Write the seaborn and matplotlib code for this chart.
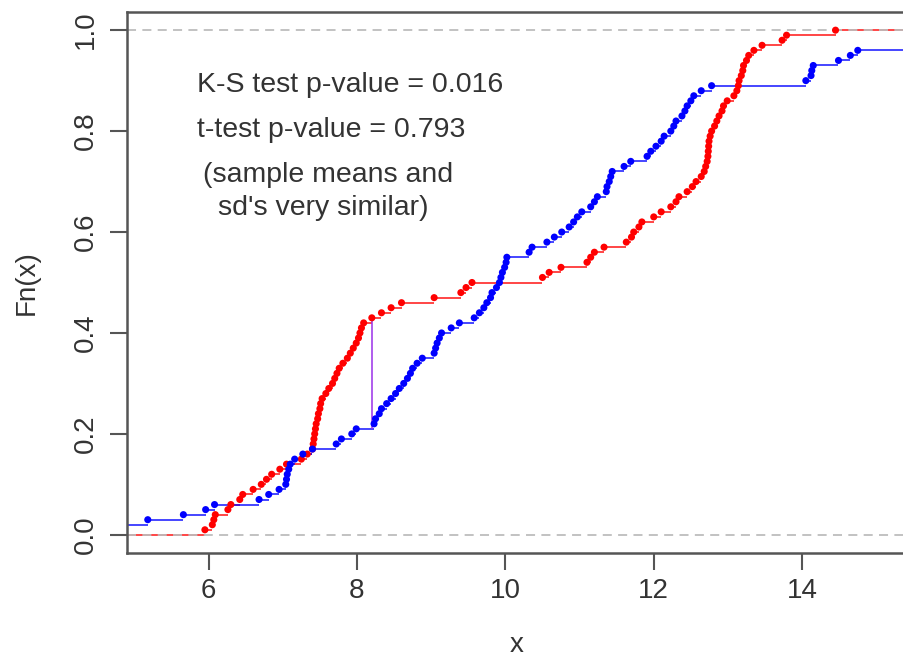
import numpy as np
import pandas as pd
import matplotlib
matplotlib.use("Agg")
import matplotlib.pyplot as plt
import seaborn as sns

# ---- data ----
red_values = [
    5.95, 6.05, 6.07, 6.09, 6.26, 6.30, 6.42, 6.46, 6.60, 6.71,
    6.78, 6.85, 6.96, 7.05, 7.25, 7.33, 7.40, 7.41, 7.42, 7.43,
    7.44, 7.45, 7.47, 7.48, 7.50, 7.51, 7.53, 7.58, 7.62, 7.67,
    7.70, 7.73, 7.76, 7.81, 7.87, 7.91, 7.95, 7.99, 8.02, 8.04,
    8.06, 8.09, 8.20, 8.33, 8.46, 8.60, 9.04, 9.40, 9.47, 9.55,
    10.50, 10.59, 10.75, 11.10, 11.15, 11.20, 11.33, 11.63, 11.70, 11.73,
    11.80, 11.84, 12.00, 12.10, 12.23, 12.30, 12.34, 12.45, 12.52, 12.57,
    12.64, 12.68, 12.70, 12.72, 12.73, 12.735, 12.74, 12.745, 12.76, 12.78,
    12.82, 12.85, 12.88, 12.92, 12.94, 12.99, 13.08, 13.12, 13.14, 13.15,
    13.18, 13.20, 13.21, 13.25, 13.28, 13.35, 13.46, 13.73, 13.79, 14.45,
]
blue_values = [
    4.55, 4.80, 5.18, 5.66, 5.96, 6.08, 6.68, 6.81, 6.95, 7.04,
    7.05, 7.06, 7.08, 7.10, 7.16, 7.27, 7.40, 7.72, 7.79, 7.93,
    7.99, 8.23, 8.25, 8.30, 8.33, 8.40, 8.46, 8.52, 8.57, 8.63,
    8.68, 8.72, 8.75, 8.81, 8.88, 9.04, 9.06, 9.08, 9.11, 9.14,
    9.27, 9.38, 9.58, 9.65, 9.71, 9.75, 9.80, 9.82, 9.88, 9.92,
    9.94, 9.96, 9.99, 10.01, 10.02, 10.32, 10.36, 10.56, 10.66, 10.76,
    10.86, 10.92, 10.97, 11.03, 11.15, 11.20, 11.24, 11.36, 11.37, 11.40,
    11.42, 11.44, 11.60, 11.69, 11.91, 11.96, 12.03, 12.10, 12.14, 12.23,
    12.27, 12.30, 12.38, 12.42, 12.45, 12.50, 12.54, 12.64, 12.78, 14.05,
    14.12, 14.13, 14.15, 14.49, 14.65, 14.75, 15.80, 16.20, 16.60, 17.10,
]
annot_lines = ["K-S test p-value = 0.016", "t-test p-value = 0.793",
               "(sample means and", "sd's very similar)"]
x_ticks = [6, 8, 10, 12, 14]
y_ticks = [0.0, 0.2, 0.4, 0.6, 0.8, 1.0]
y_tick_labels = ["0.0", "0.2", "0.4", "0.6", "0.8", "1.0"]
XLIM = (4.90, 15.40)
YLIM = (-0.036, 1.036)

sns.set_theme(style="white")
plt.rcParams["font.family"] = ["Liberation Sans", "DejaVu Sans"]

fig = plt.figure(figsize=(9.04, 6.6), dpi=100)
ax = fig.add_axes([127 / 904, 107 / 660, 779 / 904, 541 / 660])


def ecdf_frame(vals, name):
    v = np.sort(np.asarray(vals, dtype=float))
    F = np.arange(1, len(v) + 1) / len(v)
    return pd.DataFrame({"x": v, "F": F, "group": name})


red_df = ecdf_frame(red_values, "red")
blue_df = ecdf_frame(blue_values, "blue")
colors = {"red": "#FF0000", "blue": "#0000FF"}

for df, z in [(red_df, 2.0), (blue_df, 2.1)]:
    xs = df["x"].to_numpy()
    Fs = df["F"].to_numpy()
    starts = np.concatenate([[XLIM[0] - 5], xs])
    ends = np.concatenate([xs, [XLIM[1] + 5]])
    levels = np.concatenate([[0.0], Fs])
    ax.hlines(levels, starts, ends, colors=colors[df["group"].iloc[0]],
              lw=1.2, alpha=0.85, zorder=z)

for yv in (0.0, 1.0):
    ax.axhline(yv, color="#BDBDBD", lw=1.3, ls=(0, (5, 3.5)), zorder=2.5)

# K-S statistic line
pool = np.sort(np.concatenate([red_df["x"], blue_df["x"]]))
Fr = np.searchsorted(red_df["x"].to_numpy(), pool, side="right") / len(red_df)
Fb = np.searchsorted(blue_df["x"].to_numpy(), pool, side="right") / len(blue_df)
i = int(np.argmax(np.abs(Fr - Fb)))
ax.vlines(pool[i], min(Fr[i], Fb[i]), max(Fr[i], Fb[i]), color="#9A30E8",
          lw=1.1, zorder=2.6)

for df, z in [(red_df, 3.0), (blue_df, 3.1)]:
    sns.scatterplot(data=df, x="x", y="F", color=colors[df["group"].iloc[0]],
                    s=26, edgecolor="none", linewidth=0, legend=False,
                    ax=ax, zorder=z)

ax.set_xlim(*XLIM)
ax.set_ylim(*YLIM)
ax.set_xticks(x_ticks)
ax.set_xticklabels([str(t) for t in x_ticks])
ax.set_yticks(y_ticks)
ax.set_yticklabels(y_tick_labels, rotation=90, va="center")
ax.set_xlabel("x", fontsize=20, color="#333333", labelpad=20)
ax.set_ylabel("Fn(x)", fontsize=20, color="#333333", labelpad=24)
ax.tick_params(axis="both", direction="out", length=12, width=1.5,
               color="#555555", labelsize=20, labelcolor="#333333",
               bottom=True, left=True)
ax.tick_params(axis="x", pad=6)
ax.tick_params(axis="y", pad=8)
for sp in ax.spines.values():
    sp.set_visible(True)
    sp.set_color("#555555")
    sp.set_linewidth(1.8)
ax.grid(False)

text_pos = [(5.85, 0.891), (5.85, 0.802), (5.92, 0.713), (6.12, 0.648)]
for (tx, ty), s in zip(text_pos, annot_lines):
    ax.text(tx, ty, s, fontsize=20.5, color="#333333", ha="left", va="center",
            zorder=5)

fig.savefig("out.png", dpi=100)
